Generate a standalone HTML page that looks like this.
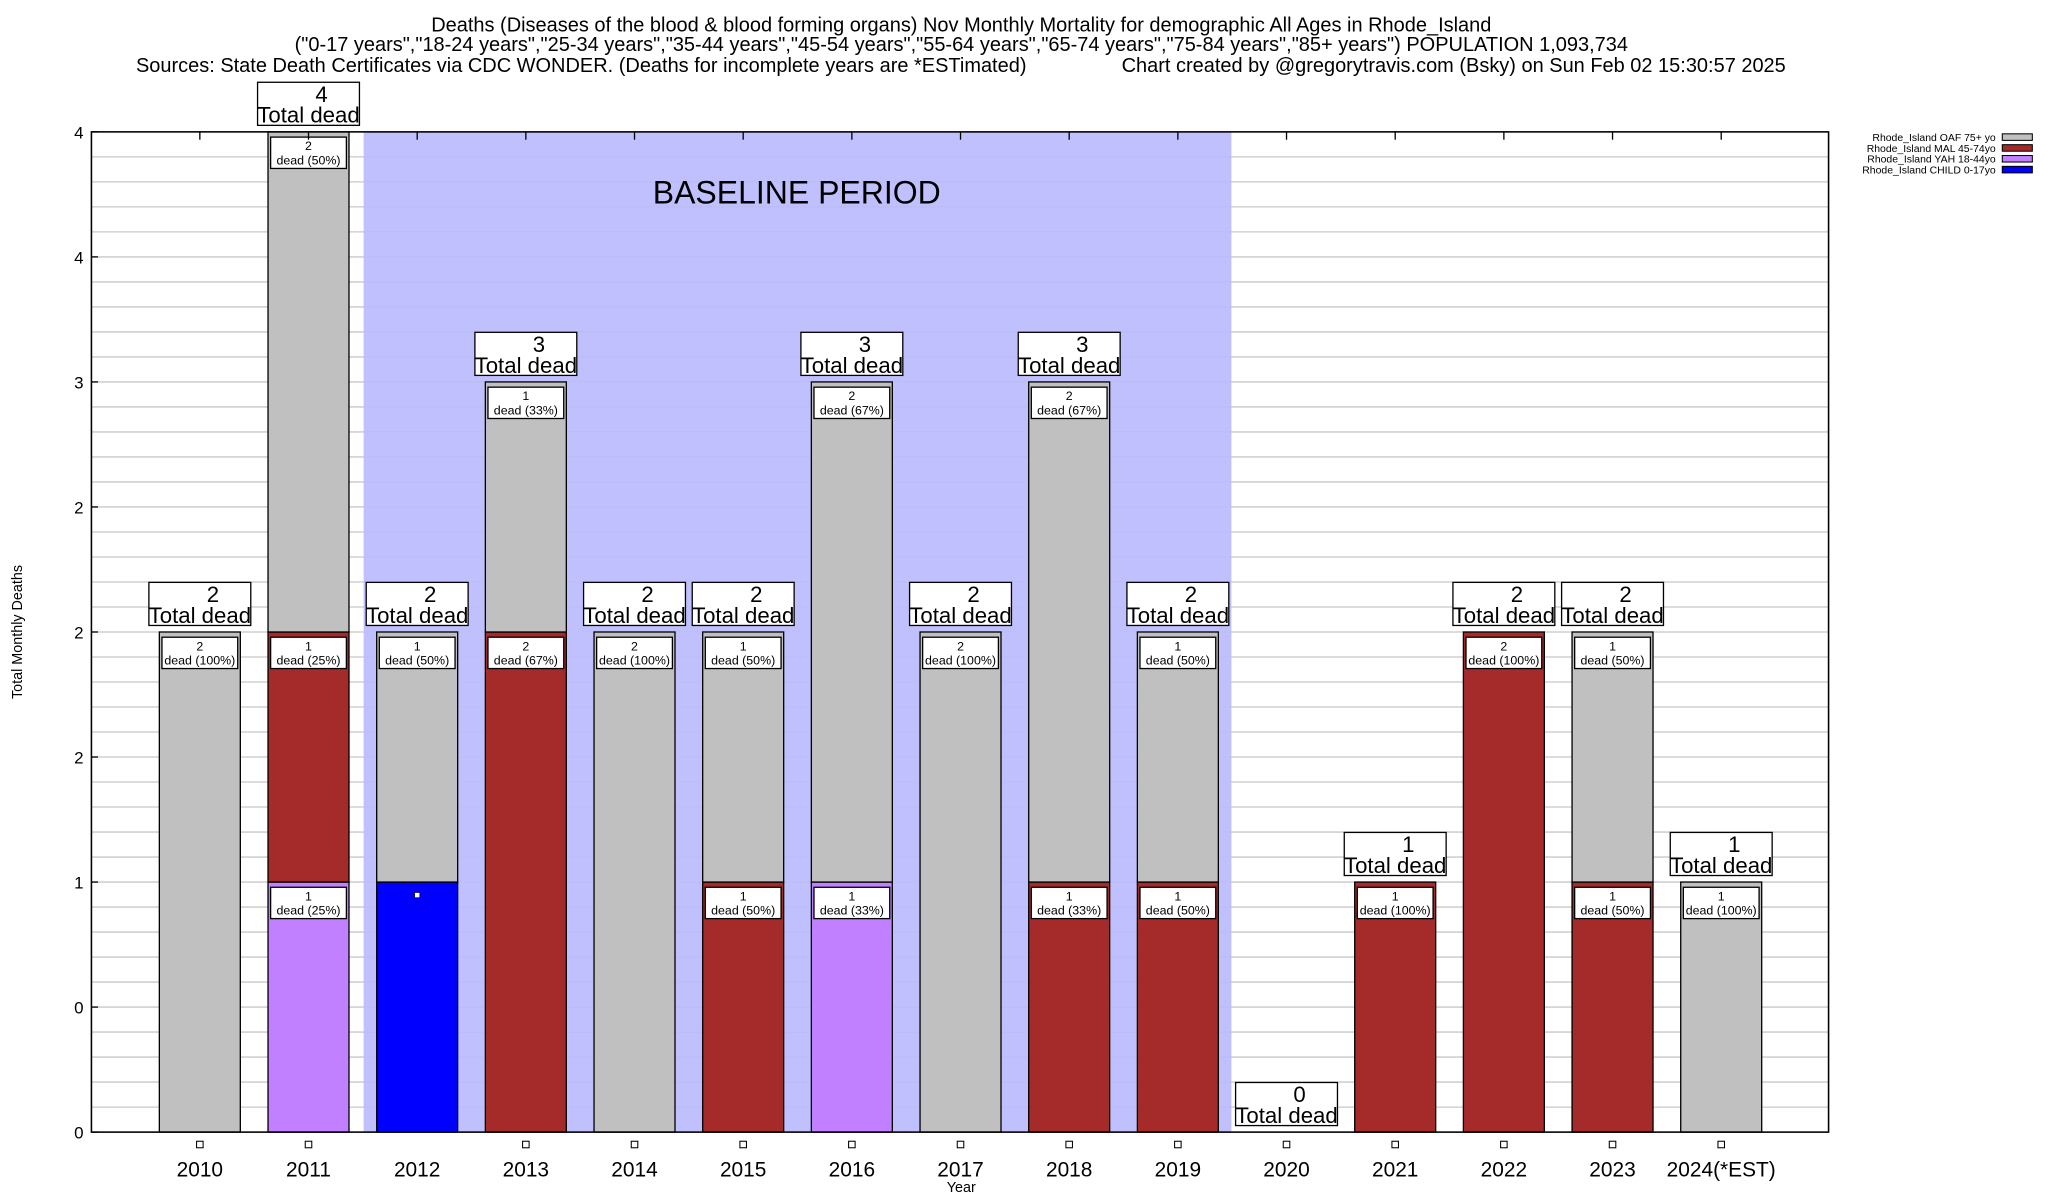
<!DOCTYPE html>
<html><head><meta charset="utf-8"><style>
html,body{margin:0;padding:0;background:#fff;}
svg{display:block;font-family:"Liberation Sans",sans-serif;}
</style></head><body>
<svg id="chart" width="2048" height="1200" viewBox="0 0 1568 919" preserveAspectRatio="none" xmlns="http://www.w3.org/2000/svg">
<g font-size="15.3" text-anchor="middle">
<text x="736" y="24">Deaths (Diseases of the blood &amp; blood forming organs) Nov Monthly Mortality for demographic All Ages in Rhode_Island</text>
<text x="736" y="39">("0-17 years","18-24 years","25-34 years","35-44 years","45-54 years","55-64 years","65-74 years","75-84 years","85+ years") POPULATION 1,093,734</text>
<text x="445" y="55">Sources: State Death Certificates via CDC WONDER. (Deaths for incomplete years are *ESTimated)</text>
<text x="1113" y="55">Chart created by @gregorytravis.com (Bsky) on Sun Feb 02 15:30:57 2025</text>
</g>
<g id="grid"></g>
<rect id="baseline" fill="#c0c0ff"/>
<g id="grid2"></g>
<text x="610" y="156" font-size="24.5" text-anchor="middle">BASELINE PERIOD</text>
<g id="bars"></g>
<g id="axes"></g>
<text transform="translate(17,484) rotate(-90)" font-size="11" text-anchor="middle">Total Monthly Deaths</text>
<text x="736" y="913" font-size="11" text-anchor="middle">Year</text>
<g id="legend"></g>
</svg>
<script>
const years=["2010","2011","2012","2013","2014","2015","2016","2017","2018","2019","2020","2021","2022","2023","2024(*EST)"];
const child=[0,0,1,0,0,0,0,0,0,0,0,0,0,0,0];
const yah=[0,1,0,0,0,0,1,0,0,0,0,0,0,0,0];
const mal=[0,1,0,2,0,1,0,0,1,1,0,1,2,1,0];
const oaf=[2,2,1,1,2,1,2,2,2,1,0,0,0,1,1];
const yTickVals=[0,0.5,1,1.5,2,2.5,3,3.5,4];
const yTickLabels=["0","0","1","2","2","2","3","4","4"];
const baselineRange=["2012","2019"];
const seriesNames=["Rhode_Island OAF 75+ yo","Rhode_Island MAL 45-74yo","Rhode_Island YAH 18-44yo","Rhode_Island CHILD 0-17yo"];

const NS="http://www.w3.org/2000/svg";
const L=70,R=1400,T=101,B=867;
const x0=153,step=83.2,bw=62;
const X=i=>x0+i*step;
const Y=v=>B-(v/4)*(B-T);
function mk(tag,attrs,parent,text){const e=document.createElementNS(NS,tag);for(const k in attrs)e.setAttribute(k,attrs[k]);if(text!==undefined)e.textContent=text;parent.appendChild(e);return e;}
const grid=document.getElementById('grid'),grid2=document.getElementById('grid2'),bars=document.getElementById('bars'),axes=document.getElementById('axes'),legend=document.getElementById('legend');

for(let k=0;k<=40;k++){const v=k/10;const y=Y(v);
 const ln=mk('line',{x1:L,x2:R,y1:y,y2:y,stroke:'#c8c8c8','stroke-width':1},grid);
 
 }
const bl=document.getElementById('baseline');
const bi0=years.indexOf(baselineRange[0]),bi1=years.indexOf(baselineRange[1]);
bl.setAttribute('x',X(bi0)-41);bl.setAttribute('width',X(bi1)-X(bi0)+82);bl.setAttribute('y',T);bl.setAttribute('height',B-T);
for(let k=0;k<=40;k++){const y=Y(k/10);const ln=mk('line',{x1:X(bi0)-41,x2:X(bi1)+41,y1:y,y2:y,stroke:'#b4b4dc','stroke-width':0.6,opacity:0.5},grid2);
 
 }

const colors=["#0000ff","#c080ff","#a52a2a","#c0c0c0"];
const series=[child,yah,mal,oaf];
const segNames=["child","yah","mal","oaf"];
years.forEach((yr,i)=>{
 const total=series.reduce((s,a)=>s+a[i],0);
 let base=0;const cx=X(i);
 series.forEach((arr,si)=>{const v=arr[i];if(!v)return;
  const r=mk('rect',{x:cx-bw/2,y:Y(base+v),width:bw,height:Y(base)-Y(base+v),fill:colors[si],stroke:'#000','stroke-width':1},bars);
  
  
  const top=Y(base+v);
  if(si===0){const s=mk('rect',{x:cx-2,y:Y(base+v)+8,width:4,height:4,fill:'#fff',stroke:'#000','stroke-width':0.5},bars);
   
   }
  else{
   const g=mk('g',{},bars);
   
   
   mk('rect',{x:cx-29,y:top+4,width:58,height:24,fill:'#fff',stroke:'#000','stroke-width':1},g);
   mk('text',{x:cx,y:top+14,'font-size':9.5,'text-anchor':'middle'},g,String(v));
   mk('text',{x:cx,y:top+25,'font-size':9.5,'text-anchor':'middle'},g,'dead ('+Math.round(v/total*100)+'%)');
  }
  base+=v;});
 const tt=Y(total);
 const g=mk('g',{},bars);
 
 
 mk('rect',{x:cx-39,y:tt-38,width:78,height:33,fill:'#fff',stroke:'#000','stroke-width':1},g);
 mk('text',{x:cx+10,y:tt-23,'font-size':17,'text-anchor':'middle'},g,String(total));
 mk('text',{x:cx,y:tt-7,'font-size':17,'text-anchor':'middle'},g,'Total dead');
 if(child[i]===0){const m=mk('rect',{x:cx-2.5,y:874,width:5,height:5,fill:'#fff',stroke:'#000','stroke-width':0.8},axes);
  
  }
 const lt=mk('text',{x:cx,y:901,'font-size':16,'text-anchor':'middle'},axes,yr);
 
 
 const tk=mk('line',{x1:cx,x2:cx,y1:T,y2:T+6,stroke:'#000'},axes);
 
 
});
const fr=mk('rect',{x:L,y:T,width:R-L,height:B-T,fill:'none',stroke:'#000','stroke-width':1.2},axes);


yTickVals.forEach((v,k)=>{
 const t=mk('text',{x:L-6,y:Y(v)+5,'font-size':13,'text-anchor':'end'},axes,yTickLabels[k]);
 
 
 mk('line',{x1:L,x2:L+5,y1:Y(v),y2:Y(v),stroke:'#000'},axes);
});
const lc=["#c0c0c0","#a52a2a","#c080ff","#0000ff"];
seriesNames.forEach((n,k)=>{const y=105+k*8.3;
 const g=mk('g',{},legend);
 
 
 mk('text',{x:1528,y:y+3,'font-size':8,'text-anchor':'end'},g,n);
 mk('rect',{x:1533,y:y-2.5,width:23,height:5,fill:lc[k],stroke:'#000','stroke-width':0.8},g);
});
</script>
</body></html>
